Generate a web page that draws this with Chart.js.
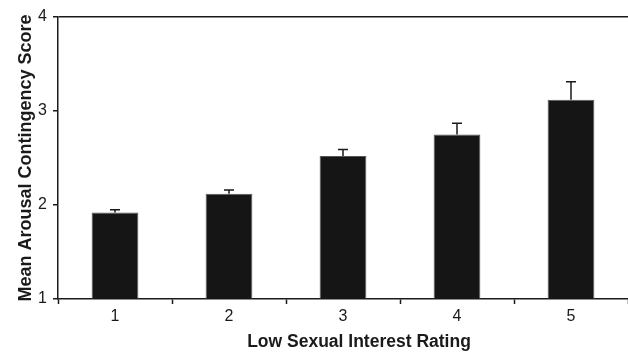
<!DOCTYPE html>
<html>
<head>
<meta charset="utf-8">
<script src="https://cdn.jsdelivr.net/npm/chart.js@4"></script>
<style>
  html, body { margin: 0; padding: 0; background: #fff; }
  #wrap { width: 628px; height: 352px; position: relative; }
</style>
</head>
<body>
<div id="wrap"><canvas id="chart"></canvas></div>
<script>
// low sexual interest rating vs mean arousal contingency score (+ upper error bar)
const ratings = ["1", "2", "3", "4", "5"];
const meanScores = [1.92, 2.12, 2.52, 2.75, 3.12];
const errorTops = [1.95, 2.16, 2.59, 2.87, 3.31];
const yTicks = [1, 2, 3, 4];
const xTitle = "Low Sexual Interest Rating";

const ink = "#1a1a1a";
const family = "'Liberation Sans', Arial, sans-serif";
const tickFont = { family, size: 16 };

// draws the upward error whiskers with a small cap
const errorBars = {
  id: "errorBars",
  afterDatasetsDraw(chart) {
    const c = chart.ctx;
    const y = chart.scales.y;
    const meta = chart.getDatasetMeta(0);
    c.save();
    c.strokeStyle = ink;
    c.lineWidth = 1.5;
    meta.data.forEach((bar, i) => {
      const top = y.getPixelForValue(errorTops[i]);
      c.beginPath();
      c.moveTo(bar.x, bar.y);
      c.lineTo(bar.x, top);
      c.moveTo(bar.x - 5, top);
      c.lineTo(bar.x + 5, top);
      c.stroke();
    });
    c.restore();
  }
};

// x axis title sits a bit right of the plot centre in the original
const xAxisTitle = {
  id: "xAxisTitle",
  afterDraw(chart) {
    const c = chart.ctx;
    const area = chart.chartArea;
    c.save();
    c.fillStyle = ink;
    c.font = "bold 17.5px " + family;
    c.textAlign = "center";
    c.textBaseline = "middle";
    c.fillText(xTitle, (area.left + area.right) / 2 + 16, 342);
    c.restore();
  }
};

new Chart(document.getElementById("chart"), {
  type: "bar",
  data: {
    labels: ratings,
    datasets: [{
      data: meanScores,
      backgroundColor: "#151515",
      borderColor: "#555",
      borderWidth: 1,
      barPercentage: 0.82,
      categoryPercentage: 0.5
    }]
  },
  options: {
    responsive: true,
    maintainAspectRatio: false,
    animation: false,
    layout: { padding: { top: 17, right: 0, left: 0, bottom: 0 } },
    plugins: { legend: { display: false }, tooltip: { enabled: false } },
    scales: {
      x: {
        afterFit: s => { s.height = 53; },
        border: { color: ink, width: 1.5 },
        grid: { drawOnChartArea: false, tickLength: 5, tickColor: ink, tickWidth: 1.5 },
        ticks: { color: ink, font: tickFont, padding: 3 }
      },
      y: {
        min: yTicks[0],
        max: yTicks[yTicks.length - 1],
        afterFit: s => { s.width = 58; },
        afterBuildTicks: s => { s.ticks = yTicks.map(v => ({ value: v })); },
        border: { color: ink, width: 1.5 },
        grid: {
          color: ctx => ctx.tick && ctx.tick.value === 4 ? ink : "transparent",
          lineWidth: 1.5,
          tickLength: 5,
          tickColor: ink,
          tickWidth: 1.5
        },
        ticks: { color: ink, font: tickFont, padding: 6 },
        title: {
          display: true,
          text: "Mean Arousal Contingency Score",
          color: ink,
          font: { family, size: 18, weight: "bold" },
          padding: { top: 15, bottom: 0 }
        }
      }
    }
  },
  plugins: [errorBars, xAxisTitle]
});
</script>
</body>
</html>
